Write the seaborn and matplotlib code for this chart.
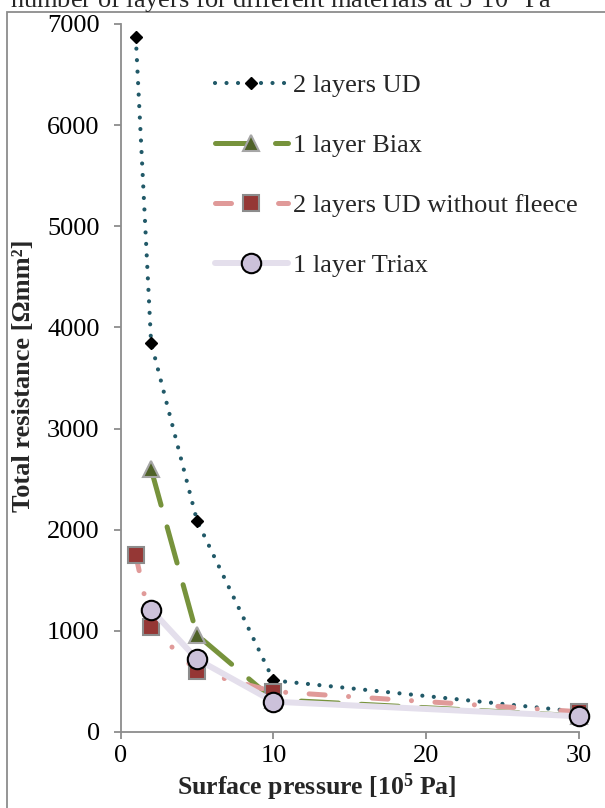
import numpy as np
import pandas as pd
import matplotlib
matplotlib.use("Agg")
import matplotlib.pyplot as plt
import seaborn as sns
from matplotlib.patches import Rectangle

# values
pressure_ud = [1, 2, 5, 10, 30]
resist_ud = [6870, 3850, 2090, 510, 200]

pressure_biax = [2, 5, 10, 30]
resist_biax = [2600, 960, 320, 160]

pressure_fleece = [1, 2, 5, 10, 30]
resist_fleece = [1750, 1040, 600, 400, 200]

pressure_triax = [2, 5, 10, 30]
resist_triax = [1210, 720, 300, 155]

labels = ["2 layers UD", "1 layer Biax", "2 layers UD without fleece", "1 layer Triax"]
x_ticks = [0, 10, 20, 30]
y_ticks = [0, 1000, 2000, 3000, 4000, 5000, 6000, 7000]

sns.set_theme(style="white")
plt.rcParams["font.family"] = ["Liberation Serif", "DejaVu Serif"]
plt.rcParams["mathtext.fontset"] = "custom"
plt.rcParams["mathtext.rm"] = "Liberation Serif:bold"
plt.rcParams["mathtext.bf"] = "Liberation Serif:bold"

W, H = 605, 808
FS = 19
fig = plt.figure(figsize=(W / 100, H / 100), dpi=100)
ax = fig.add_axes([120.5 / W, 1 - 732 / H, (579.3 - 120.5) / W, (732 - 24) / H])

# outer chart frame
fig.patches.append(Rectangle((7 / W, -0.1), 2, 1 - 12 / H + 0.1, transform=fig.transFigure,
                             fill=False, edgecolor="#8c8c8c", lw=1.3))

sns.lineplot(x=pressure_ud, y=resist_ud, ax=ax, color="#215968", lw=3.0,
             linestyle=(0, (0.01, 2.75)), dash_capstyle="round",
             marker="D", markersize=6.5, markerfacecolor="black", markeredgecolor="black",
             markeredgewidth=1, label=labels[0], clip_on=False)
sns.lineplot(x=pressure_biax, y=resist_biax, ax=ax, color="#77933C", lw=3.6,
             linestyle=(0, (7.5, 4.5)), dash_capstyle="round",
             marker="^", markersize=12, markerfacecolor="#4F6228", markeredgecolor="#A6A6A6",
             markeredgewidth=1.5, label=labels[1], clip_on=False)
sns.lineplot(x=pressure_fleece, y=resist_fleece, ax=ax, color="#E09A99", lw=3.6,
             linestyle=(0, (3.2, 4.7, 0.01, 4.7)), dash_capstyle="round",
             marker="s", markersize=11.5, markerfacecolor="#953735", markeredgecolor="#8C8C8C",
             markeredgewidth=1.5, label=labels[2], clip_on=False)
sns.lineplot(x=pressure_triax, y=resist_triax, ax=ax, color="#E4DFEC", lw=4.3,
             marker="o", markersize=14, markerfacecolor="#CCC1DA", markeredgecolor="black",
             markeredgewidth=1.5, label=labels[3], clip_on=False)

ax.set_xlim(0, 30)
ax.set_ylim(0, 7000)
ax.set_xticks(x_ticks)
ax.set_yticks(y_ticks)
ax.tick_params(axis="both", labelsize=FS, colors="black")
ax.tick_params(bottom=True, left=True, direction="out", length=5, width=1.3, color="#8c8c8c")
ax.tick_params(axis="x", pad=4.5)
ax.tick_params(axis="y", pad=10)
for s in ["top", "right"]:
    ax.spines[s].set_visible(False)
for s in ["left", "bottom"]:
    ax.spines[s].set_color("#8c8c8c")
    ax.spines[s].set_linewidth(1.3)
ax.set_xlabel("")
ax.set_ylabel("")

fig.text(317 / W, 1 - 795 / H, r"Surface pressure [$\mathbf{10^5}$ Pa]", fontsize=18.5,
         fontweight="bold", ha="center", va="baseline")
fig.text(24 / W, 1 - 376 / H, "Total resistance [Ωmm²]", fontsize=FS, fontweight="bold",
         rotation=90, ha="center", va="center")
# cut-off caption above the chart
fig.text(10 / W, 1 - 7.5 / H, "number of layers for different materials at 5·10$^5$ Pa", fontsize=FS,
         ha="left", va="baseline")

ax.legend(loc="upper left", bbox_to_anchor=(215 / W, 1 - 74 / H), bbox_transform=fig.transFigure,
          frameon=False, fontsize=FS, handlelength=2.75, handletextpad=0.2, labelspacing=1.38,
          borderpad=0, borderaxespad=0)

fig.savefig("out.png", dpi=100)
